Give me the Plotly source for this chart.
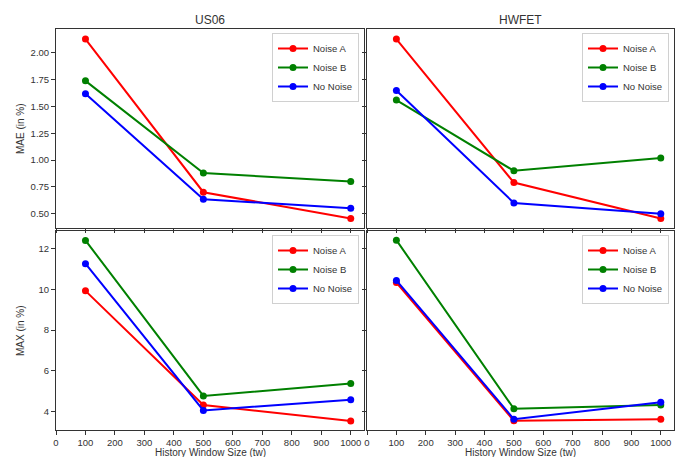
import plotly.graph_objects as go

# Window sizes evaluated
window_sizes = [100, 500, 1000]

# Mean absolute error (in %) per drive cycle
us06_mae_noise_a = [2.13, 0.70, 0.454]
us06_mae_noise_b = [1.74, 0.88, 0.80]
us06_mae_no_noise = [1.62, 0.635, 0.55]

hwfet_mae_noise_a = [2.13, 0.79, 0.454]
hwfet_mae_noise_b = [1.56, 0.90, 1.02]
hwfet_mae_no_noise = [1.65, 0.60, 0.50]

# Maximum error (in %) per drive cycle
us06_max_noise_a = [9.92, 4.33, 3.55]
us06_max_noise_b = [12.39, 4.78, 5.38]
us06_max_no_noise = [11.25, 4.07, 4.59]

hwfet_max_noise_a = [10.33, 3.56, 3.64]
hwfet_max_noise_b = [12.40, 4.15, 4.33]
hwfet_max_no_noise = [10.43, 3.64, 4.47]

series_names = ["Noise A", "Noise B", "No Noise"]
series_colors = ["#ff0000", "#008000", "#0000ff"]
x_ticks = list(range(0, 1001, 100))

W, H = 680, 457
FONT = "Liberation Sans, Arial, sans-serif"
INK = "#333333"

# Panel pixel boxes: (left, right, top, bottom)
panels = {
    1: (56, 364, 29, 228),
    2: (367, 674, 29, 228),
    3: (56, 364, 231, 430),
    4: (367, 674, 231, 430),
}

def xdom(p):
    l, r, _, _ = panels[p]
    return [l / W, r / W]

def ydom(p):
    _, _, t, b = panels[p]
    return [1 - b / H, 1 - t / H]

panel_data = {
    1: [us06_mae_noise_a, us06_mae_noise_b, us06_mae_no_noise],
    2: [hwfet_mae_noise_a, hwfet_mae_noise_b, hwfet_mae_no_noise],
    3: [us06_max_noise_a, us06_max_noise_b, us06_max_no_noise],
    4: [hwfet_max_noise_a, hwfet_max_noise_b, hwfet_max_no_noise],
}

fig = go.Figure()
for p, values in panel_data.items():
    suffix = "" if p == 1 else str(p)
    legend_id = "legend" if p == 1 else f"legend{p}"
    for name, color, ys in zip(series_names, series_colors, values):
        fig.add_trace(go.Scatter(
            x=window_sizes, y=ys, name=name, mode="lines+markers",
            line=dict(color=color, width=2),
            marker=dict(color=color, size=7),
            xaxis="x" + suffix, yaxis="y" + suffix,
            legend=legend_id,
        ))

axis_common = dict(
    showline=True, mirror=True, linecolor=INK, linewidth=1,
    ticks="outside", ticklen=4, tickcolor=INK, tickwidth=1,
    showgrid=False, zeroline=False, automargin=False,
    tickfont=dict(family=FONT, size=9.5, color=INK),
)

layout = dict(
    width=W, height=H,
    margin=dict(l=0, r=0, t=0, b=0, autoexpand=False),
    paper_bgcolor="white", plot_bgcolor="white",
    font=dict(family=FONT, color=INK),
)

mae_range = [0.366, 2.224]
max_range = [3.11, 12.85]
x_range = [0, 1045]

for p in panels:
    suffix = "" if p == 1 else str(p)
    xa = dict(axis_common, domain=xdom(p), range=x_range,
              tickvals=x_ticks, anchor="y" + suffix,
              showticklabels=p in (3, 4))
    yr = mae_range if p in (1, 2) else max_range
    ya = dict(axis_common, domain=ydom(p), range=yr, anchor="x" + suffix,
              showticklabels=p in (1, 3))
    if p in (1, 2):
        ya.update(tickvals=[0.5, 0.75, 1.0, 1.25, 1.5, 1.75, 2.0], tickformat=".2f")
    else:
        ya.update(tickvals=[4, 6, 8, 10, 12])
    layout["xaxis" + suffix] = xa
    layout["yaxis" + suffix] = ya

    l, r, t, b = panels[p]
    legend_id = "legend" if p == 1 else f"legend{p}"
    layout[legend_id] = dict(
        x=(r - 5) / W, y=1 - (t + 4) / H, xanchor="right", yanchor="top",
        bgcolor="rgba(255,255,255,0.85)", bordercolor="#d0d0d0", borderwidth=1,
        font=dict(family=FONT, size=9.5, color=INK),
        itemwidth=30, tracegroupgap=0,
    )

fig.update_layout(**layout)

annotations = [
    dict(text="US06", x=(56 + 364) / 2 / W, y=1 - 19.5 / H, font=dict(size=12)),
    dict(text="HWFET", x=(367 + 674) / 2 / W, y=1 - 19.5 / H, font=dict(size=12)),
    dict(text="MAE (in %)", x=20.5 / W, y=1 - 128.5 / H, textangle=-90, font=dict(size=10)),
    dict(text="MAX (in %)", x=20.5 / W, y=1 - 330.5 / H, textangle=-90, font=dict(size=10)),
    dict(text="History Window Size (tw)", x=(56 + 364) / 2 / W, y=1 - 452 / H, font=dict(size=10)),
    dict(text="History Window Size (tw)", x=(367 + 674) / 2 / W, y=1 - 452 / H, font=dict(size=10)),
]
for a in annotations:
    a.update(xref="paper", yref="paper", showarrow=False,
             xanchor="center", yanchor="middle")
    a["font"].update(family=FONT, color=INK)
fig.update_layout(annotations=annotations)

fig.write_html("out.html")
